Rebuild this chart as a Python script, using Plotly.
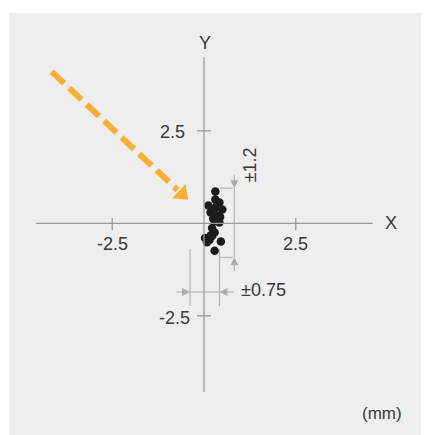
import plotly.graph_objects as go

# scatter of measured points (mm)
x_vals = [0.31, 0.31, 0.42, 0.12, 0.31, 0.50, 0.18, 0.35, 0.44, 0.25, 0.30,
          0.42, 0.22, 0.29, 0.19, 0.03, 0.15, 0.08, 0.46, 0.29, 0.22]
y_vals = [0.86, 0.64, 0.56, 0.48, 0.43, 0.37, 0.29, 0.22, 0.17, 0.12, 0.06,
          0.02, -0.13, -0.25, -0.32, -0.40, -0.45, -0.51, -0.49, -0.74, -0.34]

tick_vals = [-2.5, 2.5]
tick_text = ['-2.5', '2.5']
axis_x_extent = [-4.58, 4.6]
axis_y_extent = [-4.56, 4.49]

# tolerance dimension markers
dim_y = [-0.92, 0.95]       # ±1.2 band
dim_x = [-0.38, 0.42]       # ±0.75 band
dim_y_label = '±1.2'
dim_x_label = '±0.75'

# orange approach arrow
arrow_start = [-4.15, 4.10]
arrow_end = [-0.60, 0.79]

AXIS = '#999999'
DIM = '#ABABAB'
TXT = '#383838'
ORANGE = '#F9AF35'
FONT = 'Liberation Sans'

fig = go.Figure()

shapes = []
# main axes
shapes.append(dict(type='line', x0=axis_x_extent[0], x1=axis_x_extent[1], y0=0, y1=0,
                   line=dict(color=AXIS, width=1.3)))
shapes.append(dict(type='line', x0=0, x1=0, y0=axis_y_extent[0], y1=axis_y_extent[1],
                   line=dict(color=AXIS, width=1.3)))
# tick marks
for t in tick_vals:
    shapes.append(dict(type='line', x0=t, x1=t, y0=-0.19, y1=0.14,
                       line=dict(color=AXIS, width=1.3)))
    shapes.append(dict(type='line', x0=-0.19, x1=0.19, y0=t, y1=t,
                       line=dict(color=AXIS, width=1.3)))

# witness lines for ±1.2
for yv in dim_y:
    shapes.append(dict(type='line', x0=0.436, x1=0.79, y0=yv, y1=yv,
                       line=dict(color=DIM, width=1)))
shapes.append(dict(type='line', x0=0.826, x1=0.826, y0=dim_y[0], y1=dim_y[1],
                   line=dict(color=DIM, width=1)))
# witness lines for ±0.75
for xv in dim_x:
    shapes.append(dict(type='line', x0=xv, x1=xv, y0=-0.695, y1=-2.235,
                       line=dict(color=DIM, width=1)))
shapes.append(dict(type='line', x0=dim_x[0], x1=dim_x[1], y0=-1.857, y1=-1.857,
                   line=dict(color=DIM, width=1)))

# dashed orange arrow line
fig.add_trace(go.Scatter(
    x=[arrow_start[0], arrow_end[0] - 0.12], y=[arrow_start[1], arrow_end[1] + 0.11],
    mode='lines', line=dict(color=ORANGE, width=6, dash='17px,7px'),
    hoverinfo='skip', showlegend=False
))
fig.add_trace(go.Scatter(
    x=[arrow_end[0]], y=[arrow_end[1]], mode='markers',
    marker=dict(symbol='triangle-up', size=17, color=ORANGE, angle=133),
    hoverinfo='skip', showlegend=False
))

# points
fig.add_trace(go.Scatter(
    x=x_vals, y=y_vals, mode='markers',
    marker=dict(size=8.5, color='#1c1c1c'),
    hoverinfo='skip', showlegend=False
))

annotations = []
# dimension arrowheads
arrow_kw = dict(text='', showarrow=True, arrowhead=2, arrowsize=1.6, arrowwidth=1,
                arrowcolor=DIM, xref='x', yref='y')
annotations.append(dict(x=0.826, y=dim_y[1], ax=0, ay=-15, **arrow_kw))
annotations.append(dict(x=0.826, y=dim_y[0], ax=0, ay=15, **arrow_kw))
annotations.append(dict(x=dim_x[0], y=-1.857, ax=-15, ay=0, **arrow_kw))
annotations.append(dict(x=dim_x[1], y=-1.857, ax=16, ay=0, **arrow_kw))

txt_font = dict(family=FONT, size=18, color=TXT)
annotations.append(dict(x=1.24, y=1.58, text=dim_y_label, textangle=-90, showarrow=False,
                        font=txt_font))
annotations.append(dict(x=0.95, y=-1.80, text=dim_x_label, xanchor='left', showarrow=False,
                        font=txt_font))

# tick labels
for t, lab in zip(tick_vals, tick_text):
    annotations.append(dict(x=t, y=-0.55, text=lab, showarrow=False, font=txt_font))
annotations.append(dict(x=-0.45, y=2.47, text=tick_text[1], xanchor='right', showarrow=False,
                        font=txt_font))
annotations.append(dict(x=-0.32, y=-2.56, text=tick_text[0], xanchor='right', showarrow=False,
                        font=txt_font))

# axis names and unit
annotations.append(dict(x=0.02, y=4.86, text='Y', showarrow=False, font=txt_font))
annotations.append(dict(x=5.1, y=0.02, text='X', showarrow=False, font=txt_font))
annotations.append(dict(x=4.84, y=-5.13, text='(mm)', showarrow=False,
                        font=dict(family=FONT, size=17, color=TXT)))

# page body has an 8px margin, so the figure is sized to end at the window edge
fig.update_layout(
    width=421, height=427,
    margin=dict(l=1, r=0, t=5, b=0),
    paper_bgcolor='white',
    plot_bgcolor='#EEEEEE',
    xaxis=dict(range=[-5.313, 6.131], visible=False, fixedrange=True),
    yaxis=dict(range=[-5.722, 5.684], visible=False, fixedrange=True),
    shapes=shapes,
    annotations=annotations,
    showlegend=False
)

fig.write_html("out.html")
